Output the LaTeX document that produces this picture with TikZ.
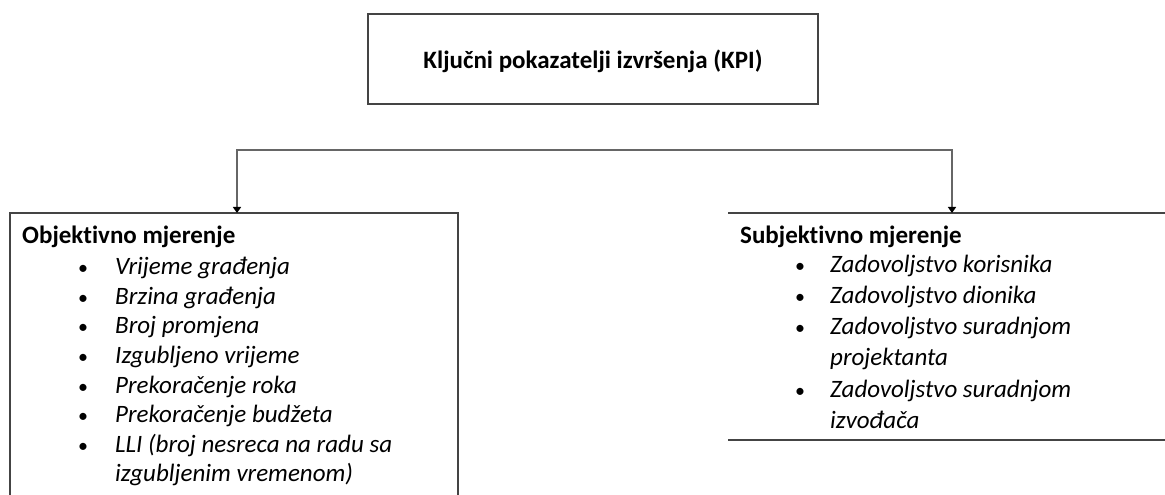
\documentclass[tikz,border=0pt]{standalone}
\usepackage{fontspec}
\setmainfont{Carlito}[Ligatures={NoCommon}]
\usetikzlibrary{arrows.meta}
\definecolor{linegray}{HTML}{666666}
\definecolor{boxgray}{HTML}{444444}
\tikzset{
  boxline/.style={draw=boxgray, line width=2bp},
  conn/.style={draw=linegray, line width=2bp, -{Triangle[length=6bp,width=8bp,color=black]}},
  head/.style={anchor=base west, inner sep=0pt, font=\fontsize{25bp}{28bp}\selectfont\bfseries},
  item/.style={anchor=base west, inner sep=0pt, font=\fontsize{25bp}{28bp}\selectfont\itshape},
  bul/.style={anchor=base west, inner sep=0pt, font=\fontsize{20bp}{24bp}\selectfont},
  title/.style={anchor=base, inner sep=0pt, font=\fontsize{25bp}{28bp}\selectfont\bfseries}
}
\begin{document}
\begin{tikzpicture}[x=1bp,y=-1bp]
\useasboundingbox (0,0) rectangle (1165,495);
% top box
\node[boxline, minimum width=450bp, minimum height=90bp, inner sep=0pt] (kpi) at (593,59) {};
\node[title] (kpit) at (593,69) {Ključni pokazatelji izvršenja (KPI)};
% left box (open at bottom)
\coordinate (lbtl) at (10,213);
\coordinate (lbtr) at (458,213);
\draw[boxline] (10,500) -- (lbtl) -- (lbtr) -- (458,500);
% right box (top and bottom lines)
\coordinate (rbtl) at (728,213);
\coordinate (rbtr) at (1170,213);
\draw[boxline] (rbtl) -- (rbtr);
\draw[boxline] (728,440) -- (1170,440);
% connectors
\coordinate (junc) at (593,150);
\coordinate (la) at (237,213);
\coordinate (ra) at (952,213);
\draw[conn] (junc) -| (la);
\draw[conn] (junc) -| (ra);
% left texts
\node[head] (lh) at (22,244) {Objektivno mjerenje};
\foreach \y/\t [count=\i] in {275/Vrijeme građenja, 304.5/Brzina građenja, 334/Broj promjena, 363.5/Izgubljeno vrijeme, 393/Prekoračenje roka, 422.5/Prekoračenje budžeta, 452/LLI (broj nesreca na radu sa}{
  \node[bul] (lb\i) at (78,\y) {•};
  \node[item] (li\i) at (115,\y) {\t};
}
\node[item] (li8) at (115,481.5) {izgubljenim vremenom)};
% right texts
\node[head] (rh) at (740,244) {Subjektivno mjerenje};
\foreach \y/\t [count=\i] in {273/Zadovoljstvo korisnika, 304/Zadovoljstvo dionika, 335/Zadovoljstvo suradnjom, 397/Zadovoljstvo suradnjom}{
  \node[bul] (rb\i) at (795,\y) {•};
  \node[item] (ri\i) at (830,\y) {\t};
}
\node[item] (ri5) at (830,366) {projektanta};
\node[item] (ri6) at (830,428) {izvođača};
\end{tikzpicture}
\end{document}
